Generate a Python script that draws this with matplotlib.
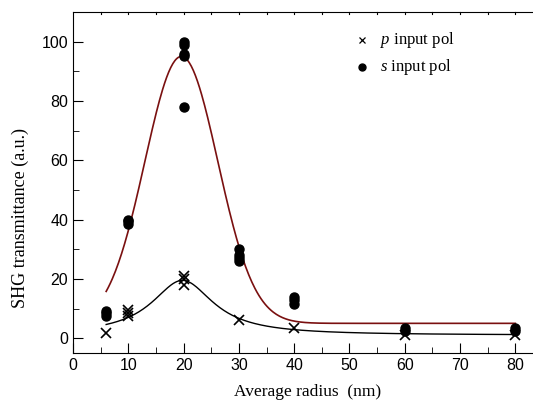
import numpy as np
import matplotlib.pyplot as plt

plt.rcParams["mathtext.fontset"] = "custom"
plt.rcParams["mathtext.it"] = "Liberation Serif:italic"
plt.rcParams["mathtext.rm"] = "Liberation Serif"

# measured points
s_x = [6, 6, 6, 10, 10, 10, 20, 20, 20, 20, 20, 30, 30, 30, 30, 40, 40, 40, 60, 60, 80, 80]
s_y = [7.5, 8.5, 9, 38.5, 39.5, 40, 100, 99, 96, 95, 78, 30, 28, 27, 26, 14, 13, 11.5, 3.5, 2.5, 3.5, 2.5]
p_x = [6, 10, 10, 10, 20, 20, 20, 30, 40, 60, 80]
p_y = [1.7, 7.5, 8.5, 9.5, 21, 20, 18, 6, 3.4, 1, 1]

# fit parameters (baseline, amplitude, centre, width)
s_fit = [5, 90, 19.6, 6.6]      # gaussian
p_fit = [1, 18.5, 19.8, 6.8]    # lorentzian

xf = np.linspace(6, 80, 400)
s_curve = s_fit[0] + s_fit[1] * np.exp(-(xf - s_fit[2])**2 / (2 * s_fit[3]**2))
p_curve = p_fit[0] + p_fit[1] / (1 + ((xf - p_fit[2]) / p_fit[3])**2)

fig = plt.figure(figsize=(5.33, 4.03), dpi=100)
ax = fig.add_axes([73/533, 50/403, 460/533, 341/403])

ax.plot(xf, s_curve, color="#7a1010", lw=1.2)
ax.plot(xf, p_curve, color="black", lw=1.0)
ax.plot(s_x, s_y, "o", color="black", ms=6.5, ls="none")
ax.plot(p_x, p_y, "x", color="black", ms=6.5, mew=1.2, ls="none")

ax.set_xlim(0, 83.2)
ax.set_ylim(-5, 110)
ax.set_xticks(range(0, 81, 10))
ax.set_xticks(range(5, 81, 10), minor=True)
ax.set_yticks(range(0, 101, 20))
ax.set_yticks(range(10, 101, 20), minor=True)
ax.spines["right"].set_visible(False)
ax.tick_params(which="major", direction="in", length=7, top=False)
ax.tick_params(which="minor", direction="in", length=4, top=False)
for lab in ax.get_xticklabels() + ax.get_yticklabels():
    lab.set_fontfamily("Liberation Sans")
    lab.set_fontsize(11.5)

# small top ticks
for xt in range(5, 81, 5):
    ax.plot([xt, xt], [110, 109.3], color="black", lw=0.8, clip_on=False)

# legend drawn by hand
ax.plot([52.3], [100.5], "x", color="black", ms=5, mew=0.9)
ax.plot([52.3], [91.5], "o", color="black", ms=5)
ax.text(55.5, 100.5, "$p$ input pol", va="center", family="Liberation Serif", fontsize=12)
ax.text(55.5, 91.5, "$s$ input pol", va="center", family="Liberation Serif", fontsize=12)

fig.text(20/533, 1 - 218/403, "SHG transmittance (a.u.)", rotation=90, ha="center", va="center",
         family="Liberation Serif", fontsize=13)
fig.text(308/533, 1 - 392/403, "Average radius  (nm)", ha="center", va="center",
         family="Liberation Serif", fontsize=12.5)

fig.savefig("out.png", dpi=100)
